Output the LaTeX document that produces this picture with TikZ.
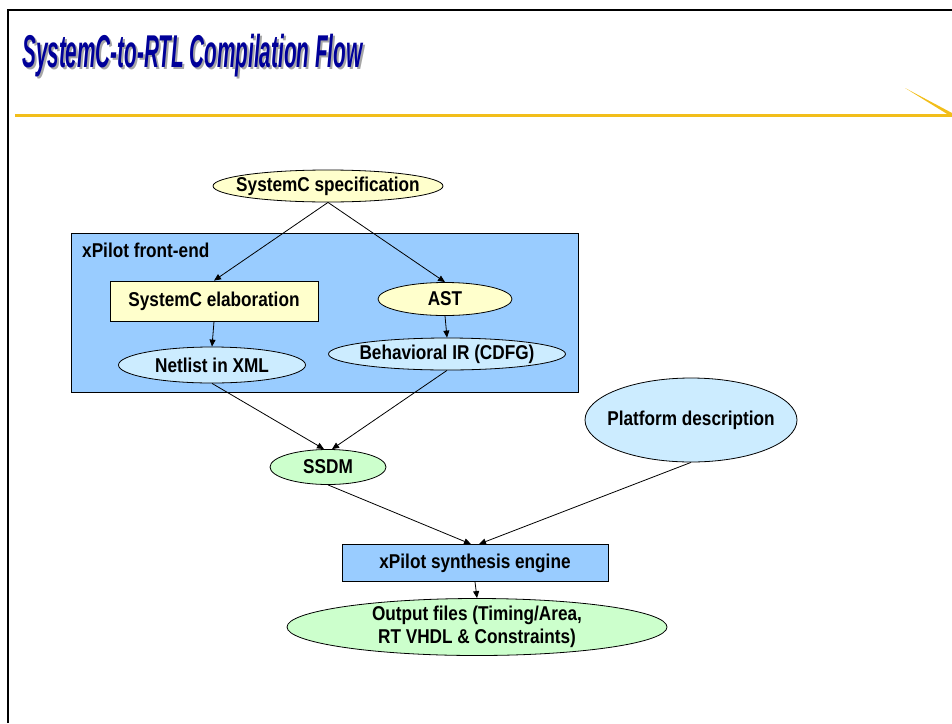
\documentclass[tikz,border=0pt]{standalone}
\usepackage{fontspec}
\setmainfont{Liberation Sans}
\newfontfamily\boxfont{Liberation Sans}[FakeStretch=0.86]
\newfontfamily\titlefont{Liberation Sans}[FakeStretch=0.45]
\usetikzlibrary{shapes.geometric,arrows.meta}
\definecolor{paleyellow}{HTML}{FFFFCC}
\definecolor{paleblue}{HTML}{CCECFF}
\definecolor{midblue}{HTML}{99CCFF}
\definecolor{palegreen}{HTML}{CCFFCC}
\definecolor{titleblue}{HTML}{000099}
\definecolor{rulegold}{HTML}{F2BE1A}

\begin{document}
\begin{tikzpicture}[x=1pt,y=-1pt,
  lbl/.style={font={\boxfont\bfseries\fontsize{20}{23}\selectfont},inner sep=0pt},
  oval/.style={lbl,ellipse,draw,line width=0.8pt,inner xsep=-22pt,inner ysep=-5pt},
  box/.style={lbl,rectangle,draw,line width=0.8pt},
  flow/.style={-{Triangle[length=7pt,width=6pt]},line width=0.8pt},
  heading/.style={font={\titlefont\bfseries\itshape\fontsize{46}{52}\selectfont},anchor=base west,inner sep=0pt}]
\useasboundingbox (0,0) rectangle (952,723);

\draw[line width=2.8pt] (8,723) -- (8,10) -- (952,10);
\node[heading,text=black!35] (titleshadow) at (24,69) {SystemC-to-RTL Compilation Flow};
\node[heading,text=titleblue] (title) at (22,67) {SystemC-to-RTL Compilation Flow};
\draw[rulegold,line width=3pt] (15,115) -- (952,115);
\fill[rulegold] (905,88) -- (952,113) -- (952,117) -- cycle;

\node[draw,fill=midblue,line width=0.8pt,anchor=north west,inner sep=0pt,minimum width=507pt,minimum height=159pt] (frontend) at (71,233) {};
\node[lbl,anchor=north west] (frontendlbl) at (82,243) {xPilot front-end};

\node[oval,fill=paleyellow,minimum width=230pt,minimum height=32pt] (spec) at (328,186) {SystemC specification};
\node[box,fill=paleyellow,minimum width=208pt,minimum height=40pt] (elab) at (214,301) {SystemC elaboration};
\node[oval,fill=paleyellow,minimum width=134pt,minimum height=33pt] (ast) at (445,299) {AST};
\node[oval,fill=paleblue,minimum width=187pt,minimum height=36pt] (netlist) at (212,365) {Netlist in XML};
\node[oval,fill=paleblue,minimum width=237pt,minimum height=32pt] (cdfg) at (447,354) {Behavioral IR (CDFG)};
\node[oval,fill=paleblue,minimum width=212pt,minimum height=84pt] (platform) at (691,420) {Platform description};
\node[oval,fill=palegreen,minimum width=116pt,minimum height=35pt] (ssdm) at (328,467) {SSDM};
\node[box,fill=midblue,minimum width=266pt,minimum height=37pt] (engine) at (475,563) {xPilot synthesis engine};
\node[oval,fill=palegreen,minimum width=380pt,minimum height=57pt,align=center] (output) at (477,627) {Output files (Timing/Area,\\RT VHDL \& Constraints)};

\draw[flow] (spec.south) -- (elab.north);
\draw[flow] (spec.south) -- (ast.north);
\draw[flow] (elab.south) -- (netlist.north);
\draw[flow] (ast.south) -- (cdfg.north);
\draw[flow] (netlist.south) -- ([xshift=-4pt]ssdm.north);
\draw[flow] (cdfg.south) -- ([xshift=4pt]ssdm.north);
\draw[flow] (ssdm.south) -- ([xshift=-4pt]engine.north);
\draw[flow] (platform.south) -- ([xshift=4pt]engine.north);
\draw[flow] (engine.south) -- (output.north);
\end{tikzpicture}
\end{document}
